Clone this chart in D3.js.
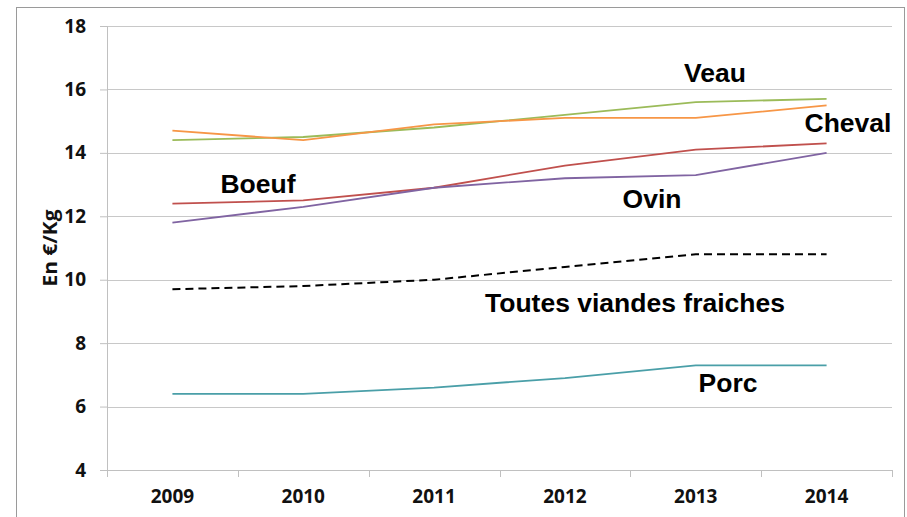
<!DOCTYPE html>
<html>
<head>
<meta charset="utf-8">
<script src="https://cdn.jsdelivr.net/npm/d3@7"></script>
<style>
  body { margin: 0; background: #fff; }
  .axis text { font-family: "Open Sans", "DejaVu Sans", sans-serif; font-weight: bold; font-size: 19px; fill: #111; }
  .serie-label { font-family: "Liberation Sans", Arial, sans-serif; font-weight: bold; font-size: 26.5px; fill: #000; }
</style>
</head>
<body>
<svg id="chart" width="907" height="517"></svg>
<script>
// années
const years = ["2009", "2010", "2011", "2012", "2013", "2014"];
// prix en €/kg
const veau = [14.4, 14.5, 14.8, 15.2, 15.6, 15.7];
const cheval = [14.7, 14.4, 14.9, 15.1, 15.1, 15.5];
const boeuf = [12.4, 12.5, 12.9, 13.6, 14.1, 14.3];
const ovin = [11.8, 12.3, 12.9, 13.2, 13.3, 14.0];
const toutes = [9.7, 9.8, 10.0, 10.4, 10.8, 10.8];
const porc = [6.4, 6.4, 6.6, 6.9, 7.3, 7.3];
const yTicks = [4, 6, 8, 10, 12, 14, 16, 18];

const series = [
  { name: "Veau", values: veau, color: "#9bbb59", dash: null, lx: 715, ly: 82 },
  { name: "Cheval", values: cheval, color: "#f79646", dash: null, lx: 848, ly: 132 },
  { name: "Boeuf", values: boeuf, color: "#c0504d", dash: null, lx: 258, ly: 193 },
  { name: "Ovin", values: ovin, color: "#8064a2", dash: null, lx: 652, ly: 208 },
  { name: "Toutes viandes fraiches", values: toutes, color: "#000", dash: "8,5", lx: 635, ly: 312 },
  { name: "Porc", values: porc, color: "#4a9fa8", dash: null, lx: 728, ly: 392 }
];

const margin = { top: 26, left: 107, right: 15 };
const width = 892 - margin.left,
      height = 470 - margin.top;

const svg = d3.select("#chart");

// cadre extérieur
svg.append("rect")
  .attr("x", 16.5).attr("y", 7.5)
  .attr("width", 888).attr("height", 520)
  .attr("fill", "none").attr("stroke", "#9a9a9a").attr("stroke-width", 1);

const g = svg.append("g")
  .attr("transform", "translate(" + margin.left + "," + margin.top + ")");

const x = d3.scaleBand().domain(years).range([0, width]);
const y = d3.scaleLinear().domain([4, 18]).range([height, 0]);

// grille
g.append("g")
  .selectAll("line")
  .data(yTicks.slice(1))
  .join("line")
    .attr("x1", 0).attr("x2", width)
    .attr("y1", d => Math.round(y(d)) + 0.5)
    .attr("y2", d => Math.round(y(d)) + 0.5)
    .attr("stroke", "#c8c8c8");

// axe y
const yAxis = g.append("g")
  .attr("class", "axis")
  .call(d3.axisLeft(y).tickValues(yTicks).tickSize(7).tickPadding(14));
yAxis.select(".domain").attr("stroke", "#c0c0c0");
yAxis.selectAll(".tick line").attr("stroke", "#c0c0c0");

// axe x
const xAxis = g.append("g")
  .attr("class", "axis")
  .attr("transform", "translate(0," + height + ")")
  .call(d3.axisBottom(x).tickSize(0).tickPadding(20));
xAxis.select(".domain").attr("stroke", "#c0c0c0");
xAxis.selectAll(".tick line").remove();
// petits traits entre les catégories
xAxis.selectAll(".sep")
  .data(years.concat(["end"]))
  .join("line")
    .attr("class", "sep")
    .attr("x1", (d, i) => Math.round(i * x.step()) + 0.5)
    .attr("x2", (d, i) => Math.round(i * x.step()) + 0.5)
    .attr("y1", 0).attr("y2", 7)
    .attr("stroke", "#c0c0c0");

// titre axe y
svg.append("text")
  .attr("transform", "translate(57,248) rotate(-90)")
  .attr("text-anchor", "middle")
  .attr("textLength", 77)
  .attr("lengthAdjust", "spacingAndGlyphs")
  .style("font-family", "'Open Sans', 'DejaVu Sans', sans-serif")
  .style("font-weight", "bold")
  .style("font-size", "19px")
  .style("fill", "#111")
  .text("En €/Kg");

// courbes
const line = d3.line()
  .x((d, i) => x(years[i]) + x.bandwidth() / 2)
  .y(d => y(d));

g.selectAll(".serie")
  .data(series)
  .join("path")
    .attr("class", "serie")
    .attr("d", d => line(d.values))
    .attr("fill", "none")
    .attr("stroke", d => d.color)
    .attr("stroke-width", d => d.dash ? 2 : 1.8)
    .attr("stroke-dasharray", d => d.dash);

// étiquettes
svg.selectAll(".serie-label")
  .data(series)
  .join("text")
    .attr("class", "serie-label")
    .attr("x", d => d.lx)
    .attr("y", d => d.ly)
    .attr("text-anchor", "middle")
    .text(d => d.name);
</script>
</body>
</html>
